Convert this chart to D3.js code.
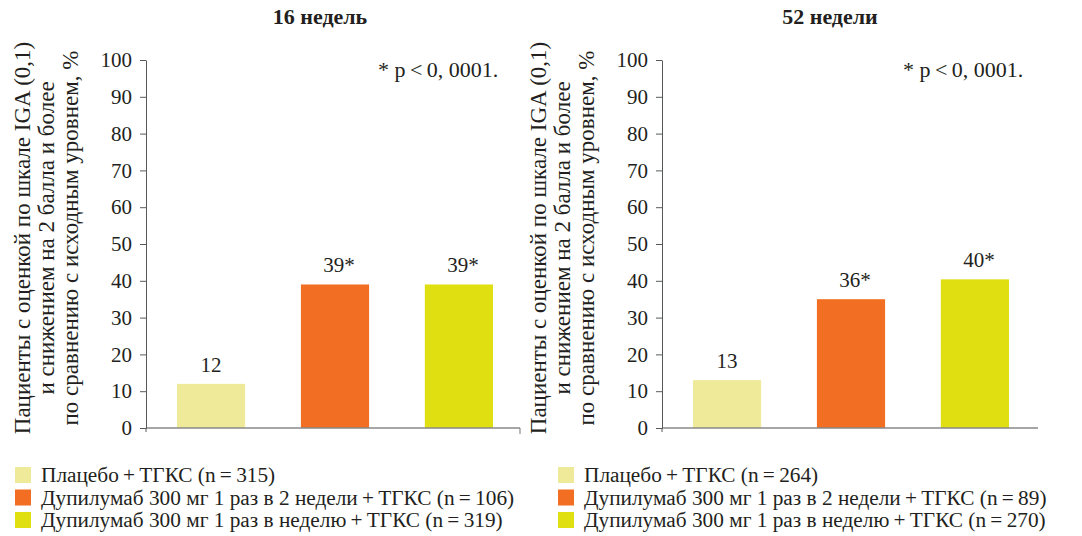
<!DOCTYPE html>
<html lang="ru">
<head>
<meta charset="utf-8">
<title>IGA 0/1</title>
<script src="https://cdn.jsdelivr.net/npm/d3@7"></script>
<style>
  body { margin: 0; background: #fff; }
  svg text { font-family: "Liberation Serif", "DejaVu Serif", serif; fill: #231f20; }
  .axis path, .axis line { stroke: #58595b; }
</style>
</head>
<body>
<script>
// data
var panelTitles = ["16 недель", "52 недели"];
var groups = ["Плацебо", "Дупилумаб 300 мг 1 раз в 2 недели", "Дупилумаб 300 мг 1 раз в неделю"];
var colors = ["#eeea9a", "#f26e22", "#dfdf12"];
var values16 = [12, 39, 39];
var values52 = [13, 35, 40.4];
var labels16 = ["12", "39*", "39*"];
var labels52 = ["13", "36*", "40*"];
var n16 = [315, 106, 319];
var n52 = [264, 89, 270];
var yTicks = [0, 10, 20, 30, 40, 50, 60, 70, 80, 90, 100];
var yLabel = ["Пациенты с оценкой по шкале IGA (0,1)",
              "и снижением на 2 балла и более",
              "по сравнению с исходным уровнем, %"];
var note = "* p\u2009<\u20090, 0001.";

var serif = '"Liberation Serif", "DejaVu Serif", serif';
var w = 1082, h = 536;
var panelShift = 516;
var titleX = [320, 830];
var noteX = [378, 903];

var svg = d3.select("body").append("svg")
  .attr("width", w)
  .attr("height", h);

var yScale = d3.scaleLinear().domain([0, 100]).range([428, 60]);
var xScale = d3.scaleBand().domain(groups)
  .range([146, 524]).paddingInner(0.45).paddingOuter(0.25);

var panels = [
  {title: panelTitles[0], values: values16, labels: labels16, n: n16},
  {title: panelTitles[1], values: values52, labels: labels52, n: n52}
];

panels.forEach(function(p, i) {
  var g = svg.append("g").attr("transform", "translate(" + (i * panelShift) + ",0)");

  // title
  svg.append("text")
    .attr("x", titleX[i])
    .attr("y", 24)
    .attr("text-anchor", "middle")
    .style("font-family", serif)
    .style("font-size", "22px")
    .style("font-weight", "bold")
    .text(p.title);

  // y label
  var yl = g.append("text")
    .attr("transform", "translate(0,238) rotate(-90)")
    .attr("text-anchor", "middle")
    .style("font-family", serif)
    .style("font-size", "23px");
  yLabel.forEach(function(s, k) {
    yl.append("tspan").attr("x", 0).attr("y", 30 + k * 24).text(s);
  });

  // bars
  g.selectAll("rect.bar")
    .data(p.values)
    .enter()
    .append("rect")
    .attr("class", "bar")
    .attr("x", function(d, k) { return xScale(groups[k]); })
    .attr("y", function(d) { return yScale(d); })
    .attr("width", xScale.bandwidth())
    .attr("height", function(d) { return yScale(0) - yScale(d); })
    .attr("fill", function(d, k) { return colors[k]; });

  g.selectAll("text.val")
    .data(p.values)
    .enter()
    .append("text")
    .attr("class", "val")
    .attr("x", function(d, k) { return xScale(groups[k]) + xScale.bandwidth() / 2 + (p.labels[k].indexOf("*") > 0 ? 4 : 0); })
    .attr("y", function(d) { return yScale(d) - 12; })
    .attr("text-anchor", "middle")
    .style("font-family", serif)
    .style("font-size", "21px")
    .text(function(d, k) { return p.labels[k]; });

  // baseline
  g.append("line")
    .attr("x1", 146).attr("x2", i == 0 ? 520 : 522)
    .attr("y1", yScale(0)).attr("y2", yScale(0))
    .attr("stroke", "#898989").attr("stroke-width", 1.6);
  if (i == 0) {
    g.append("line")
      .attr("x1", 520).attr("x2", 520)
      .attr("y1", yScale(0)).attr("y2", yScale(0) + 6)
      .attr("stroke", "#898989").attr("stroke-width", 1.2);
  }

  // y axis
  var yAxis = d3.axisLeft(yScale).tickValues(yTicks).tickSize(6).tickSizeOuter(0).tickPadding(8);
  var ax = g.append("g")
    .attr("class", "axis")
    .attr("transform", "translate(146,0)")
    .call(yAxis);
  ax.selectAll("text")
    .style("font-family", serif)
    .style("font-size", "21px")
    .style("fill", "#231f20");
  g.append("line")
    .attr("x1", 146).attr("x2", 146)
    .attr("y1", yScale(0)).attr("y2", yScale(0) + 4)
    .attr("stroke", "#58595b");

  // footnote
  svg.append("text")
    .attr("x", noteX[i])
    .attr("y", 77)
    .style("font-family", serif)
    .style("font-size", "22px")
    .text(note);

  // legend
  var lx = i == 0 ? 15 : 558;
  groups.forEach(function(s, k) {
    var ly = 467 + k * 22.5;
    svg.append("rect")
      .attr("x", lx).attr("y", ly)
      .attr("width", 16).attr("height", 16)
      .attr("fill", colors[k]);
    svg.append("text")
      .attr("x", lx + 26)
      .attr("y", ly + 15)
      .style("font-family", serif)
      .style("font-size", "21.3px")
      .text(s + "\u2009+\u2009ТГКС (n\u2009=\u2009" + p.n[k] + ")");
  });
});
</script>
</body>
</html>
